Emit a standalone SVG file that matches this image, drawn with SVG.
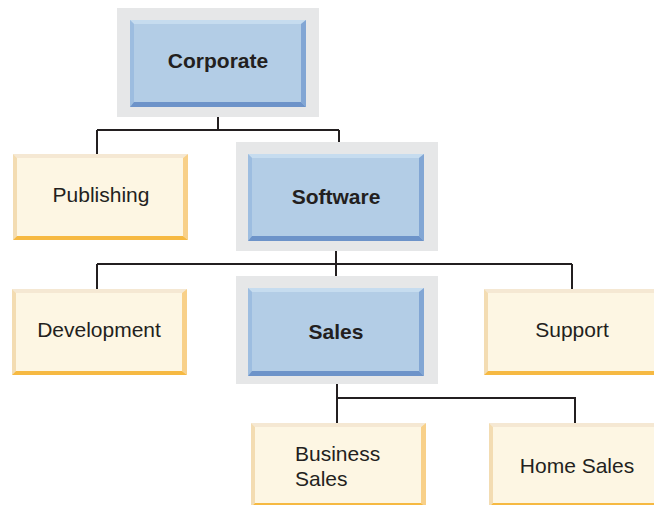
<svg xmlns="http://www.w3.org/2000/svg" width="654" height="505" viewBox="0 0 654 505">
<style>
.frame{fill:#e6e7e8}
.bfill{fill:#b3cde6}
.bt{fill:#c6dcef}
.bl{fill:#9dbde0}
.br{fill:#82a6d4}
.bb{fill:#6d93c9}
.yfill{fill:#fdf6e3}
.yt{fill:#f5e8d3}
.yl{fill:#f3dcb2}
.yr{fill:#f8d089}
.yb{fill:#f6b942}
.conn{fill:none;stroke:#231f20;stroke-width:2}
text{font-family:"Liberation Sans",Arial,Helvetica,sans-serif;font-size:21px;fill:#231f20}
.bold{font-weight:bold}
</style>
<rect width="654" height="505" fill="#ffffff"/>
<g id="connectors">
<path class="conn" d="M218,117V130M97,130H339M97,130V154M339,130V142"/>
<path class="conn" d="M336,251V276M97,264H572M97,264V289M572,264V289"/>
<path class="conn" d="M337,384V423M337,398H575V423"/>
</g>
<g id="corporate">
<rect class="frame" x="117" y="8" width="202" height="109"/>
<rect class="bfill" x="130" y="20" width="176" height="87"/>
<polygon class="bt" points="130,20 306,20 301,24 134,24"/>
<polygon class="bl" points="130,20 134,24 134,102 130,107"/>
<polygon class="br" points="306,20 306,107 301,102 301,24"/>
<polygon class="bb" points="130,107 134,102 301,102 306,107"/>
<text class="bold" x="218" y="68" text-anchor="middle">Corporate</text>
</g>
<g id="software">
<rect class="frame" x="236" y="142" width="202" height="109"/>
<rect class="bfill" x="248" y="154" width="176" height="87"/>
<polygon class="bt" points="248,154 424,154 419,158 252,158"/>
<polygon class="bl" points="248,154 252,158 252,236 248,241"/>
<polygon class="br" points="424,154 424,241 419,236 419,158"/>
<polygon class="bb" points="248,241 252,236 419,236 424,241"/>
<text class="bold" x="336" y="204" text-anchor="middle">Software</text>
</g>
<g id="sales">
<rect class="frame" x="236" y="276" width="202" height="108"/>
<rect class="bfill" x="248" y="288" width="176" height="88"/>
<polygon class="bt" points="248,288 424,288 419,292 252,292"/>
<polygon class="bl" points="248,288 252,292 252,371 248,376"/>
<polygon class="br" points="424,288 424,376 419,371 419,292"/>
<polygon class="bb" points="248,376 252,371 419,371 424,376"/>
<text class="bold" x="336" y="339" text-anchor="middle">Sales</text>
</g>
<g id="publishing">
<rect class="yfill" x="13" y="154" width="175" height="86"/>
<polygon class="yt" points="13,154 188,154 183,158 17,158"/>
<polygon class="yl" points="13,154 17,158 17,236 13,240"/>
<polygon class="yr" points="188,154 188,240 183,236 183,158"/>
<polygon class="yb" points="13,240 17,236 183,236 188,240"/>
<text x="101" y="202" text-anchor="middle">Publishing</text>
</g>
<g id="development">
<rect class="yfill" x="12" y="289" width="175" height="86"/>
<polygon class="yt" points="12,289 187,289 182,293 16,293"/>
<polygon class="yl" points="12,289 16,293 16,371 12,375"/>
<polygon class="yr" points="187,289 187,375 182,371 182,293"/>
<polygon class="yb" points="12,375 16,371 182,371 187,375"/>
<text x="99" y="337" text-anchor="middle">Development</text>
</g>
<g id="support">
<rect class="yfill" x="484" y="289" width="175" height="86"/>
<polygon class="yt" points="484,289 659,289 654,293 488,293"/>
<polygon class="yl" points="484,289 488,293 488,371 484,375"/>
<polygon class="yr" points="659,289 659,375 654,371 654,293"/>
<polygon class="yb" points="484,375 488,371 654,371 659,375"/>
<text x="572" y="337" text-anchor="middle">Support</text>
</g>
<g id="business-sales">
<rect class="yfill" x="251" y="423" width="175" height="84"/>
<polygon class="yt" points="251,423 426,423 421,427 255,427"/>
<polygon class="yl" points="251,423 255,427 255,503 251,507"/>
<polygon class="yr" points="426,423 426,507 421,503 421,427"/>
<polygon class="yb" points="251,507 255,503 421,503 426,507"/>
<text x="295" y="461">Business</text>
<text x="295" y="486">Sales</text>
</g>
<g id="home-sales">
<rect class="yfill" x="489" y="423" width="175" height="84"/>
<polygon class="yt" points="489,423 664,423 659,427 493,427"/>
<polygon class="yl" points="489,423 493,427 493,503 489,507"/>
<polygon class="yr" points="664,423 664,507 659,503 659,427"/>
<polygon class="yb" points="489,507 493,503 659,503 664,507"/>
<text x="577" y="473" text-anchor="middle">Home Sales</text>
</g>
</svg>
